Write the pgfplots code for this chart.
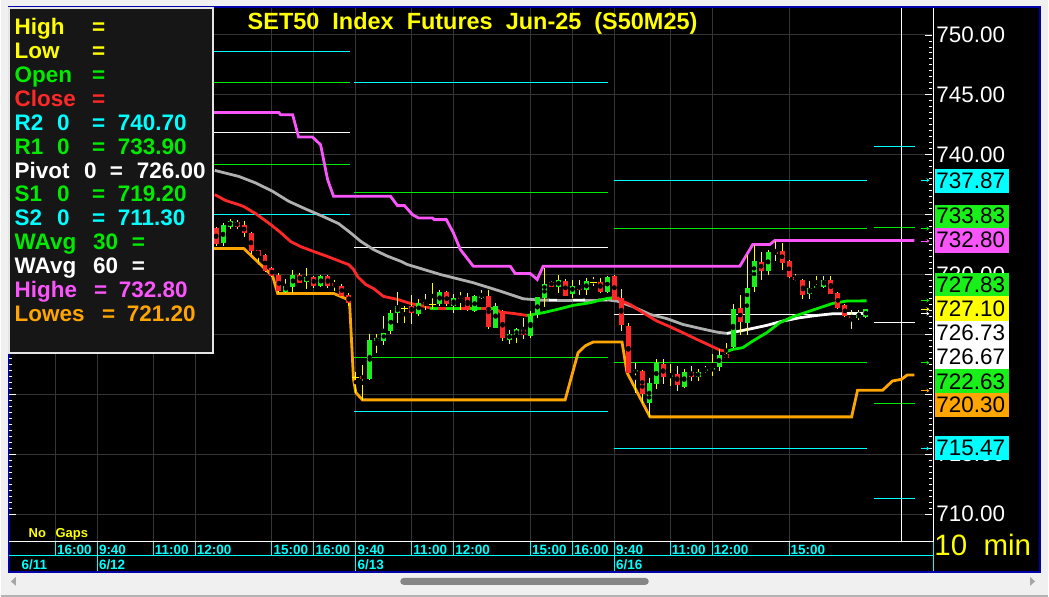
\documentclass[border=0pt]{standalone}
\usepackage{pgfplots}
\pgfplotsset{compat=1.18}
\usepackage{pgfplotstable}
\usepackage{fontspec}
\setmainfont{Liberation Sans}
\usetikzlibrary{arrows.meta}
\pgfdeclarelayer{bg}
\pgfsetlayers{bg,main}
\definecolor{cgrid}{RGB}{52,52,52}
\definecolor{cred}{RGB}{255,40,40}
\definecolor{cgreen}{RGB}{0,235,0}
\definecolor{bgreen}{RGB}{25,240,25}
\definecolor{cmag}{RGB}{250,85,250}
\definecolor{corange}{RGB}{255,165,0}
\definecolor{cgray}{RGB}{175,175,175}
\definecolor{winbg}{RGB}{240,240,240}
\definecolor{cblue}{RGB}{0,0,170}
\definecolor{panelbg}{RGB}{22,22,22}
\definecolor{thumb}{RGB}{134,134,134}
\definecolor{ccyan}{RGB}{0,255,255}
\definecolor{cyel}{RGB}{255,255,0}
\newcommand{\fs}[1]{\fontsize{#1}{#1}\selectfont}

% candles: i = bar index (0 = 6/13 9:40), o h l c
\pgfplotstableread{
i o h l c
-20 733.89 733.95 732.36 732.58
-17 734.42 734.58 733.83 734.00
-16 734.17 734.47 733.11 733.44
-15 733.44 733.53 731.73 731.94
-14 732.08 732.10 731.03 731.58
-13 731.67 731.70 730.20 730.28
-12 730.50 730.64 729.80 729.86
-11 729.92 730.14 728.42 728.58
-8 730.00 730.17 729.30 729.33
-6 729.83 729.90 728.92 729.08
-4 729.92 729.95 728.86 729.08
-3 729.33 729.58 728.58 729.08
-2 729.08 729.17 728.20 728.25
-1 728.33 728.50 727.36 727.64
1 721.53 722.42 719.53 721.31
8 727.33 728.33 725.92 726.75
10 727.67 728.42 727.08 727.42
13 728.50 728.58 727.36 727.50
15 728.17 728.53 727.08 728.00
16 728.08 728.47 726.95 727.00
19 728.17 728.75 725.50 725.58
21 727.00 727.08 724.44 724.75
24 725.42 726.33 724.58 724.92
28 729.42 729.50 728.95 729.00
30 729.50 729.60 728.20 728.25
32 729.00 729.58 728.33 728.75
35 729.42 729.67 728.50 728.58
37 729.86 730.00 727.85 727.92
38 728.06 728.81 725.28 725.75
39 725.69 725.97 721.75 721.81
41 721.94 722.00 719.30 720.06
44 722.50 722.97 720.83 721.47
46 721.67 722.36 720.28 720.78
48 721.89 722.36 721.11 721.44
53 723.33 724.31 723.00 723.06
55 727.17 728.33 724.92 726.03
58 731.06 731.89 729.53 730.28
60 731.89 732.83 731.11 731.75
61 732.00 732.64 730.36 730.97
62 731.17 731.25 729.70 729.78
63 729.81 730.06 729.44 729.53
64 729.53 729.60 727.97 728.28
68 729.58 729.86 728.35 728.39
69 728.47 728.55 727.15 727.22
70 727.42 727.50 726.45 726.53
71 726.58 727.08 725.42 726.36
}\tabDown

\pgfplotstableread{
i o h l c
-19 732.61 734.31 732.36 734.17
-18 734.00 734.67 733.83 734.50
-10 728.58 729.67 728.47 729.08
-9 729.00 730.42 728.47 730.00
-7 729.42 730.58 728.83 729.83
-5 729.08 729.95 728.92 729.92
2 721.25 725.00 721.20 724.58
3 724.44 725.00 723.47 724.67
4 724.50 726.53 724.08 725.17
5 725.25 727.00 725.00 726.83
6 726.75 728.58 725.97 727.33
9 726.75 727.92 726.53 727.67
12 727.50 728.75 727.42 728.50
14 727.42 728.33 726.81 728.08
17 726.92 728.33 726.85 728.17
18 728.08 728.67 727.92 728.33
20 725.58 727.64 725.50 727.42
22 724.58 725.42 724.25 725.00
23 724.92 725.50 724.31 725.42
25 724.83 727.00 724.75 726.58
26 726.58 728.15 726.39 728.08
27 728.00 730.56 727.31 729.17
29 729.00 730.00 728.47 729.58
31 728.42 729.58 728.06 729.08
33 728.75 729.72 728.33 729.42
36 728.58 729.90 728.50 729.83
40 721.86 722.64 720.14 722.00
42 719.31 721.39 718.11 720.92
43 720.89 722.92 720.47 722.64
45 721.44 722.50 720.69 721.61
47 720.61 722.08 720.55 721.86
49 721.44 722.14 721.11 721.89
50 721.94 722.36 721.81 722.08
51 722.00 723.33 721.53 722.17
52 722.28 723.75 721.94 723.31
54 723.94 727.50 723.90 727.17
56 725.92 731.67 724.92 728.89
57 728.94 732.50 728.53 731.17
59 730.28 732.08 730.00 731.89
65 728.33 729.44 727.97 728.83
66 728.86 729.92 728.80 729.08
67 728.94 729.86 728.90 729.58
72 726.39 727.08 726.25 726.67
73 726.44 727.15 726.40 727.10
}\tabUp

\pgfplotstableread{
i o h l c
0 721.44 721.90 720.14 721.44
7 727.19 727.42 725.97 727.19
11 727.50 729.31 727.08 727.50
34 729.33 729.81 729.03 729.33
}\tabDoji

\newcommand{\pv}[4]{\addplot[#1, line width=1pt] coordinates {(#2,#4) (#3,#4)};}
\newcommand{\lgt}[4]{\node[anchor=base west, inner sep=0pt, text=#1, font=\bfseries\fs{22.5}] at (#2,#3) {#4};}
\newcommand{\rbox}[5]{\fill[#1] (936,#2) rectangle (1010,#3);
  \node[anchor=west, inner sep=0pt, text=black, font=\fs{22.5}] at (937,#4) {#5};}
\newcommand{\tlab}[2]{\node[anchor=base west, inner sep=0pt, text=ccyan, font=\bfseries\fs{13.5}] at (#1,42) {#2};}
\newcommand{\dlab}[2]{\node[anchor=base west, inner sep=0pt, text=ccyan, font=\bfseries\fs{13.5}] at (#1,27.5) {#2};}
\newcommand{\rarr}[2]{\addplot[#1, line width=0.8pt, -{Stealth[length=3pt,width=4pt]}] coordinates {(80.9,#2) (82.1,#2)};}

\begin{document}
\begin{tikzpicture}[x=1pt,y=1pt]
\begin{axis}[scale only axis,
  width=925pt, height=535pt,
  xmin=-49.643, xmax=82.5, ymin=707.667, ymax=752.25,
  axis line style={draw=none},
  xtick={-43,-37,-29,-23,-12,-6,0,8,14,25,31,37,45,51,62}, xticklabels={},
  xticklabel style={inner sep=0pt, font=\fs{1}},
  xtick style={draw=none},
  ytick={710,715,...,750}, minor y tick num=9,
  yticklabels={710.00,715.00,{},{},730.00,{},740.00,745.00,750.00},
  yticklabel pos=right, ytick pos=both,
  tick align=inside, major tick length=7pt, minor tick length=3.5pt,
  ytick style={draw=white, line width=0.8pt},
  grid=major, major grid style={draw=cgrid, line width=1pt},
  yticklabel style={font=\fs{22.5}, text=white, anchor=west, inner sep=0pt, xshift=4pt},
]
\coordinate (O) at (rel axis cs:0,0);
% pivot levels per session
\pv{ccyan}{-37}{-0.9}{748.58} \pv{cgreen}{-37}{-0.9}{746.00} \pv{white}{-37}{-0.9}{741.83}
\pv{cgreen}{-37}{-0.9}{739.17} \pv{ccyan}{-37}{-0.9}{735.00}
\pv{ccyan}{-0.2}{36.1}{746.00} \pv{cgreen}{-0.2}{36.1}{736.83} \pv{white}{-0.2}{36.1}{732.25}
\pv{cgreen}{-0.2}{36.1}{723.08} \pv{ccyan}{-0.2}{36.1}{718.58}
\pv{ccyan}{36.9}{73.1}{737.87} \pv{cgreen}{36.9}{73.1}{733.83} \pv{white}{36.9}{73.1}{726.67}
\pv{cgreen}{36.9}{73.1}{722.63} \pv{ccyan}{36.9}{73.1}{715.47}
\pv{ccyan}{74.1}{80.1}{740.70} \pv{cgreen}{74.1}{80.1}{733.90} \pv{white}{74.1}{80.1}{726.00}
\pv{cgreen}{74.1}{80.1}{719.20} \pv{ccyan}{74.1}{80.1}{711.30}
% current time marker
\addplot[white, line width=1.5pt] coordinates {(78.1,707.667) (78.1,752.25)};
% Highest high
\addplot[cmag, line width=2.8pt] coordinates {(-49.6,743.53) (-11.04,743.53) (-10.76,743.33) (-9.04,743.33) (-8.19,741.47) (-6.19,741.47) (-5.04,740.83) (-4.04,737.92) (-3.19,736.53) (4.96,736.53) (5.96,735.75) (6.96,735.75) (8.1,735.0) (8.96,734.72) (10.96,734.72) (11.24,734.58) (12.96,734.58) (13.96,733.48) (14.96,732.08) (16.81,730.69) (22.1,730.69) (22.81,730.08) (24.96,730.08) (25.96,729.58) (26.81,730.69) (54.96,730.69) (56.81,732.5) (59.24,732.5) (59.96,732.83) (79.96,732.83)};
% Lowest low
\addplot[corange, line width=2.8pt] coordinates {(-21,732.17) (-16.04,732.17) (-11.9,729.86) (-11.19,728.42) (-3.19,728.42) (-1.19,727.92) (-0.9,727.69) (-0.33,721.25) (0,720.14) (0.96,719.53) (29.96,719.53) (31.81,723.47) (32.81,724.03) (33.96,724.36) (38.1,724.36) (38.81,721.81) (42.1,718.11) (70.96,718.11) (71.81,720.33) (75.39,720.33) (76.81,721.11) (78.1,721.25) (78.92,721.61) (79.96,721.61)};
% WAvg 60
\addplot[cgray, line width=2.8pt] coordinates {(-20.19,738.69) (-16.76,738.19) (-14.33,737.64) (-11.9,736.94) (-9.61,736.11) (-7.19,735.47) (-4.76,734.86) (-2.47,734.25) (-0.76,733.48) (0.67,732.78) (2.53,732.08) (4.53,731.53) (6.39,731.11) (7.39,730.83) (12.1,730.0) (16.81,729.31) (20.67,728.61) (23.96,727.97) (26.39,727.86) (27.6,727.86)};
\addplot[white, line width=2.8pt] coordinates {(27.6,727.86) (28.8,727.84)};
\addplot[cgray, line width=2.8pt] coordinates {(28.8,727.84) (31,727.84)};
\addplot[white, line width=2.8pt] coordinates {(31,727.84) (32.8,727.86)};
\addplot[cgray, line width=2.8pt] coordinates {(32.8,727.86) (34.7,727.86)};
\addplot[white, line width=2.8pt] coordinates {(34.7,727.86) (36,727.88)};
\addplot[cgray, line width=2.8pt] coordinates {(36,727.88) (37.39,727.78) (39.67,727.31) (42.1,726.67) (44.53,726.31) (46.81,725.83) (49.24,725.5) (51.67,725.19) (53.1,725.08)};
\addplot[white, line width=2.8pt] coordinates {(53.1,725.08) (54.96,725.28) (56.81,725.5) (58.81,725.75) (61.1,726.11) (63.53,726.39) (65.96,726.58) (68.24,726.72) (73.1,726.75)};
% WAvg 30
\addplot[cred, line width=2.8pt] coordinates {(-20.19,736.67) (-18.61,736.17) (-16.76,735.83) (-16.04,735.67) (-14.33,735.08) (-12.19,734.17) (-10.76,733.50) (-9.33,732.75) (-7.9,732.33) (-6.04,731.92) (-4.04,731.50) (-2.19,731.08) (-1.04,730.83) (-0.33,730.42) (0.24,729.83) (1.39,729.17) (2.53,728.83) (3.96,728.17) (5.96,727.92) (7.81,727.58) (9.67,727.36) (10.67,727.19)};
\addplot[cgreen, line width=2.8pt] coordinates {(10.67,727.19) (11.8,727.19)};
\addplot[cred, line width=2.8pt] coordinates {(11.8,727.19) (12.96,727.19)};
\addplot[cgreen, line width=2.8pt] coordinates {(12.96,727.19) (14.96,727.19)};
\addplot[cred, line width=2.8pt] coordinates {(14.96,727.19) (15.8,727.19)};
\addplot[cgreen, line width=2.8pt] coordinates {(15.8,727.19) (17.96,727.19)};
\addplot[cred, line width=2.8pt] coordinates {(17.96,727.19) (18.8,727.19)};
\addplot[cgreen, line width=2.8pt] coordinates {(18.8,727.19) (19.96,727.19)};
\addplot[cred, line width=2.8pt] coordinates {(19.96,727.19) (20.67,726.86) (22.53,726.75) (24.53,726.58)};
\addplot[cgreen, line width=2.8pt] coordinates {(24.53,726.58) (26.81,726.81) (28.81,727.08) (31.1,727.42) (33.53,727.64) (35.96,728.0) (37.39,728.1)};
\addplot[cred, line width=2.8pt] coordinates {(37.39,728.1) (37.81,727.86) (39.24,727.5) (41.1,726.81) (43.1,726.11) (44.96,725.64) (46.81,725.14) (48.81,724.58) (50.67,724.08) (52.1,723.69) (53.1,723.58)};
\addplot[cgreen, line width=2.8pt] coordinates {(53.1,723.58) (53.96,723.75) (55.39,723.89) (56.81,724.44) (58.81,725.14) (60.67,725.97) (62.53,726.47) (64.53,726.86) (66.39,727.22) (68.24,727.58) (70.24,727.78) (73.1,727.80)};
% candle wicks
\addplot[only marks, mark=none, error bars/.cd, y dir=both, y explicit, error mark=none,
  error bar style={draw=cyel, line width=1pt}]
  table[x=i, y expr={(\thisrow{h}+\thisrow{l})/2}, y error expr={(\thisrow{h}-\thisrow{l})/2}] {\tabDown};
\addplot[only marks, mark=none, error bars/.cd, y dir=both, y explicit, error mark=none,
  error bar style={draw=cyel, line width=1pt}]
  table[x=i, y expr={(\thisrow{h}+\thisrow{l})/2}, y error expr={(\thisrow{h}-\thisrow{l})/2}] {\tabUp};
\addplot[only marks, mark=none, error bars/.cd, y dir=both, y explicit, error mark=none,
  error bar style={draw=cyel, line width=1pt}]
  table[x=i, y expr={(\thisrow{h}+\thisrow{l})/2}, y error expr={(\thisrow{h}-\thisrow{l})/2}] {\tabDoji};
% candle bodies
\addplot[only marks, mark=none, error bars/.cd, y dir=both, y explicit, error mark=none,
  error bar style={draw=cred, line width=5pt}]
  table[x=i, y expr={(\thisrow{o}+\thisrow{c})/2}, y error expr={max((\thisrow{o}-\thisrow{c})/2,0.09)}] {\tabDown};
\addplot[only marks, mark=none, error bars/.cd, y dir=both, y explicit, error mark=none,
  error bar style={draw=bgreen, line width=5pt}]
  table[x=i, y expr={(\thisrow{o}+\thisrow{c})/2}, y error expr={max((\thisrow{c}-\thisrow{o})/2,0.09)}] {\tabUp};
\addplot[only marks, mark=-, mark size=3.5pt, mark options={draw=cyel, line width=1pt}]
  table[x=i, y=o] {\tabDoji};
% price arrows at right edge
\rarr{ccyan}{737.87} \rarr{cgreen}{733.83} \rarr{cmag}{732.80} \rarr{cgreen}{727.83}
\rarr{cyel}{727.10} \rarr{white}{726.73} \rarr{cgreen}{722.63} \rarr{corange}{720.30}
\rarr{ccyan}{715.47}
\end{axis}

\begin{scope}[shift={(O)}]
\begin{scope}[shift={(-8,-55)}]
\begin{pgfonlayer}{bg}
\fill[winbg] (0,0) rectangle (1049,598);
\fill[black] (8,25) rectangle (1041,591);
\draw[cblue, line width=2pt] (8,25) rectangle (1041,591);
\end{pgfonlayer}

% axis frame lines
\draw[white, line width=1pt] (8,55.5) -- (934,55.5);
\draw[white, line width=1.2pt] (934,55) -- (934,590);
\draw[ccyan, line width=1pt] (8,41) -- (934.5,41);
\draw[ccyan, line width=1pt] (934.5,26) -- (934.5,55);
\foreach \x in {54.5,96.5,152.5,194.5,271.5,313.5,355.5,411.5,453.5,530.5,572.5,614.5,670.5,712.5,789.5}
  \draw[ccyan, line width=1pt] (\x,41) -- (\x,55);
\foreach \x in {96.5,355.5,614.5}
  \draw[ccyan, line width=1pt] (\x,26) -- (\x,41);
\tlab{56}{16:00}\tlab{98}{9:40}\tlab{154}{11:00}\tlab{196}{12:00}\tlab{273}{15:00}
\tlab{315}{16:00}\tlab{357}{9:40}\tlab{413}{11:00}\tlab{455}{12:00}\tlab{532}{15:00}
\tlab{574}{16:00}\tlab{616}{9:40}\tlab{672}{11:00}\tlab{714}{12:00}\tlab{791}{15:00}
\dlab{20.5}{6/11}\dlab{98}{6/12}\dlab{357}{6/13}\dlab{616}{6/16}
\node[anchor=base west, inner sep=0pt, text=cyel, font=\bfseries\fs{13}] at (27.5,59) {No};
\node[anchor=base west, inner sep=0pt, text=cyel, font=\bfseries\fs{13}] at (54.5,59) {Gaps};

% title
\node[anchor=base west, inner sep=0pt, text=cyel, font=\bfseries\fs{23.5}] at (247,568) {SET50~~Index~~Futures~~Jun-25~~(S50M25)};

% right price boxes
\rbox{ccyan}{429}{405}{417}{737.87}
\rbox{bgreen}{393}{370}{381.5}{733.83}
\rbox{cmag}{370}{345}{357.5}{732.80}
\rbox{bgreen}{324}{301}{312.5}{727.83}
\rbox{cyel}{301}{276}{288.5}{727.10}
\rbox{white}{276}{253}{264.5}{726.73}
\rbox{white}{253}{228}{240.5}{726.67}
\rbox{bgreen}{228}{204}{216}{722.63}
\rbox{corange}{204}{180}{192}{720.30}
\rbox{ccyan}{161}{137}{149}{715.47}
\node[anchor=base west, inner sep=0pt, text=cyel, font=\fs{29.5}] at (935,41) {10~~min};

% legend panel
\fill[panelbg] (9,245) rectangle (211,589);
\draw[white!80!gray, line width=2pt] (8,244) rectangle (212,590);
\lgt{cyel}{13.5}{563}{High}\lgt{cyel}{91}{563}{=}
\lgt{cyel}{13.5}{539.1}{Low}\lgt{cyel}{91}{539.1}{=}
\lgt{cgreen}{13.5}{515.2}{Open}\lgt{cgreen}{91}{515.2}{=}
\lgt{cred}{13.5}{491.3}{Close}\lgt{cred}{91}{491.3}{=}
\lgt{ccyan}{13.5}{467.4}{R2}\lgt{ccyan}{56}{467.4}{0}\lgt{ccyan}{91}{467.4}{=}\lgt{ccyan}{117}{467.4}{740.70}
\lgt{cgreen}{13.5}{443.5}{R1}\lgt{cgreen}{56}{443.5}{0}\lgt{cgreen}{91}{443.5}{=}\lgt{cgreen}{117}{443.5}{733.90}
\lgt{white}{13.5}{419.6}{Pivot}\lgt{white}{83}{419.6}{0}\lgt{white}{109}{419.6}{=}\lgt{white}{136}{419.6}{726.00}
\lgt{cgreen}{13.5}{395.7}{S1}\lgt{cgreen}{56}{395.7}{0}\lgt{cgreen}{91}{395.7}{=}\lgt{cgreen}{117}{395.7}{719.20}
\lgt{ccyan}{13.5}{371.8}{S2}\lgt{ccyan}{56}{371.8}{0}\lgt{ccyan}{91}{371.8}{=}\lgt{ccyan}{117}{371.8}{711.30}
\lgt{cgreen}{13.5}{347.9}{WAvg}\lgt{cgreen}{92}{347.9}{30}\lgt{cgreen}{131}{347.9}{=}
\lgt{white}{13.5}{324}{WAvg}\lgt{white}{92}{324}{60}\lgt{white}{131}{324}{=}
\lgt{cmag}{13.5}{300.1}{Highe}\lgt{cmag}{93}{300.1}{=}\lgt{cmag}{118}{300.1}{732.80}
\lgt{corange}{13.5}{276.2}{Lowes}\lgt{corange}{101}{276.2}{=}\lgt{corange}{126}{276.2}{721.20}

% scroll bar
\fill[thumb, rounded corners=3.5pt] (400,12) rectangle (649,19);
\fill[gray!70] (10,15.5) -- (15,20) -- (15,11) -- cycle;
\fill[gray!70] (1031,11) -- (1031,20) -- (1036,15.5) -- cycle;
\draw[gray!60, line width=2pt] (0,1) -- (1049,1);
\end{scope}
\end{scope}
\end{tikzpicture}
\end{document}
